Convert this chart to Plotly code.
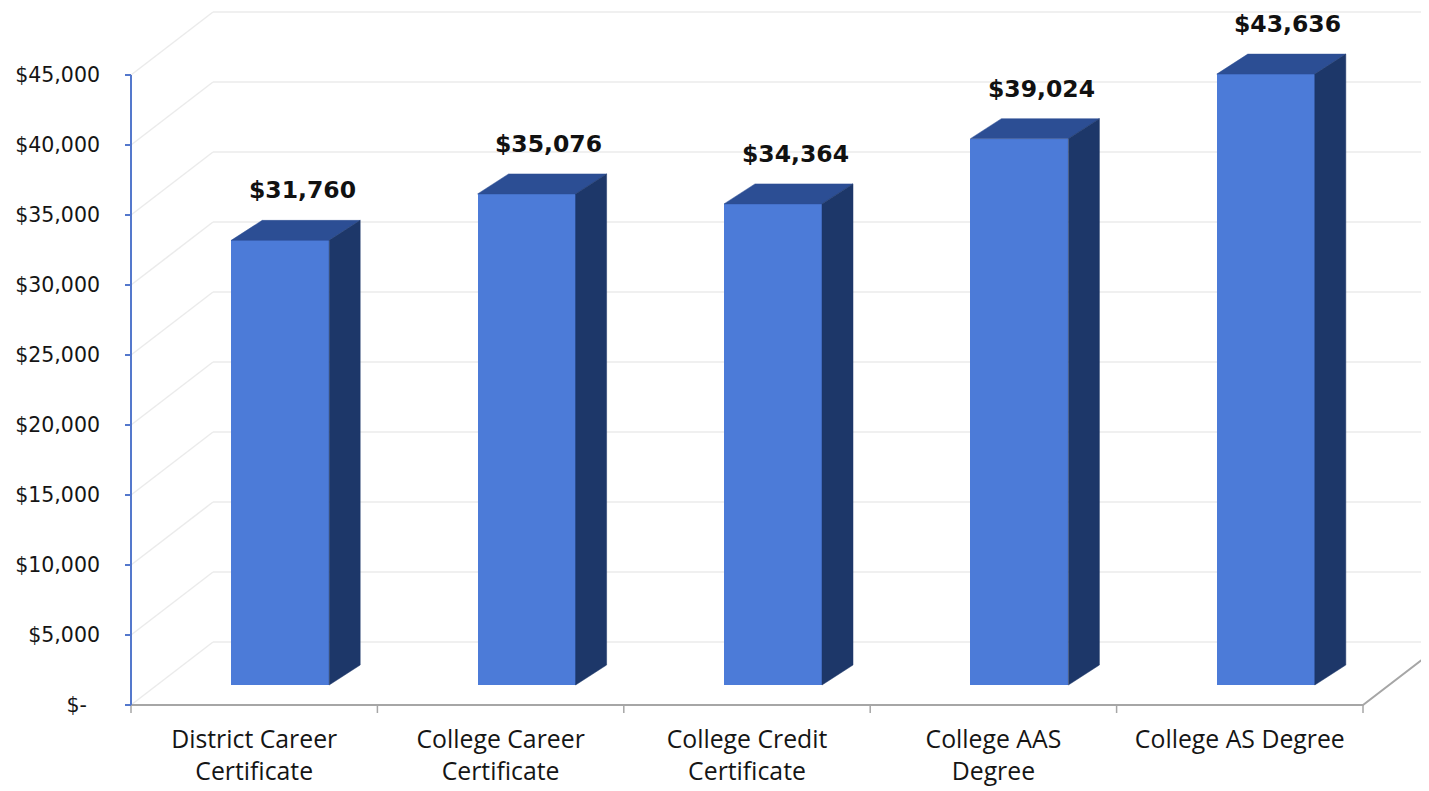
import plotly.graph_objects as go

# ---- data ----
categories = ["District Career<br>Certificate", "College Career<br>Certificate",
              "College Credit<br>Certificate", "College AAS<br>Degree", "College AS Degree"]
values = [31760, 35076, 34364, 39024, 43636]
value_labels = ["$31,760", "$35,076", "$34,364", "$39,024", "$43,636"]
y_ticks = [0, 5000, 10000, 15000, 20000, 25000, 30000, 35000, 40000, 45000]
y_tick_labels = ["$-\u00a0\u00a0", "$5,000", "$10,000", "$15,000", "$20,000", "$25,000",
                 "$30,000", "$35,000", "$40,000", "$45,000"]

# ---- geometry (pixel scale -> data units) ----
PAGE_W, PAGE_H = 1429, 791
BODY = 8                      # default page body margin
W, H = PAGE_W - BODY, PAGE_H - BODY
PX_X = 246.4                  # px per category
PX_Y = 630 / 45000            # px per dollar
def dx(px): return px / PX_X
def dy(px): return px / PX_Y

n = len(categories)
centers = [i + 0.5 for i in range(n)]
wall_dx, wall_dy = dx(82), dy(63)        # depth of the 3D box
front_dx, front_dy = dx(26), dy(20)      # bar front-face offset inside box
bar_dx, bar_dy = dx(31), dy(20)          # bar depth
bar_w = dx(98)

axis_left, axis_bottom = 131, 705        # reference page px
left_pad, bottom_pad = 8, 12
x_range = [-dx(left_pad), dx(PAGE_W - axis_left)]
y_range = [-dy(bottom_pad), dy(axis_bottom - BODY)]

AXIS_BLUE = "#5478CC"
GRID = "#EBEBEB"
FLOOR = "#A6A6A6"
FRONT = "#4C7BD8"
TOP = "#2C4E94"
SIDE = "#1D3769"

fig = go.Figure()

# back wall / side wall gridlines (below the bars)
for v in y_ticks:
    pts = [(0, v), (wall_dx, v + wall_dy), (n + wall_dx, v + wall_dy)]
    for (x0, y0), (x1, y1) in zip(pts[:-1], pts[1:]):
        fig.add_shape(type="line", xref="x", yref="y", x0=x0, y0=y0, x1=x1, y1=y1,
                      line=dict(color=GRID, width=1.5), layer="below")

# floor edges
fig.add_trace(go.Scatter(x=[0, n, n + wall_dx], y=[0, 0, wall_dy], mode="lines",
                         line=dict(color=FLOOR, width=2), hoverinfo="skip", showlegend=False))

# category tick marks
tx, ty = [], []
for i in range(n + 1):
    tx += [i, i, None]
    ty += [0, -dy(8), None]
fig.add_trace(go.Scatter(x=tx, y=ty, mode="lines", line=dict(color=FLOOR, width=1.5),
                         hoverinfo="skip", showlegend=False))

# y axis line and ticks
yx, yy = [0, 0, None], [0, y_ticks[-1], None]
for v in y_ticks:
    yx += [-dx(6), 0, None]
    yy += [v, v, None]
fig.add_trace(go.Scatter(x=yx, y=yy, mode="lines", line=dict(color=AXIS_BLUE, width=2),
                         hoverinfo="skip", showlegend=False))

# bar front faces
bx = [c + front_dx for c in centers]
fig.add_trace(go.Bar(x=bx, y=values, base=[front_dy] * n, width=bar_w,
                     marker=dict(color=FRONT, line=dict(width=0)), showlegend=False))

# top and side faces
topx, topy, sidex, sidey = [], [], [], []
for c, v in zip(bx, values):
    xl, xr = c - bar_w / 2, c + bar_w / 2
    b, t = front_dy, front_dy + v
    topx += [xl, xr, xr + bar_dx, xl + bar_dx, xl, None]
    topy += [t, t, t + bar_dy, t + bar_dy, t, None]
    sidex += [xr, xr + bar_dx, xr + bar_dx, xr, xr, None]
    sidey += [b, b + bar_dy, t + bar_dy, t, b, None]
fig.add_trace(go.Scatter(x=topx, y=topy, fill="toself", mode="lines", fillcolor=TOP,
                         line=dict(color=TOP, width=0.5), hoverinfo="skip", showlegend=False))
fig.add_trace(go.Scatter(x=sidex, y=sidey, fill="toself", mode="lines", fillcolor=SIDE,
                         line=dict(color=SIDE, width=0.5), hoverinfo="skip", showlegend=False))

# value labels
for c, v, lab in zip(bx, values, value_labels):
    fig.add_annotation(x=c + dx(22), y=v + front_dy + bar_dy, text=lab, showarrow=False,
                       yanchor="middle", yshift=30,
                       font=dict(family="DejaVu Sans", size=23.5, color="#111111", weight="bold"))

fig.update_layout(
    width=W, height=H,
    margin=dict(l=axis_left - left_pad - BODY, r=0, t=0,
                b=PAGE_H - (axis_bottom + bottom_pad), pad=0),
    plot_bgcolor="white", paper_bgcolor="white",
    bargap=0,
    xaxis=dict(range=x_range, showgrid=False, zeroline=False, showline=False,
               tickvals=centers, ticktext=categories, ticks="",
               ticklabelstandoff=5,
               tickfont=dict(family="Open Sans", size=24.8, color="#151515")),
    yaxis=dict(range=y_range, showgrid=False, zeroline=False, showline=False,
               tickvals=y_ticks, ticktext=y_tick_labels, ticks="",
               ticklabelstandoff=22,
               tickfont=dict(family="DejaVu Sans", size=20.5, color="#151515")),
)

fig.write_html("out.html")
